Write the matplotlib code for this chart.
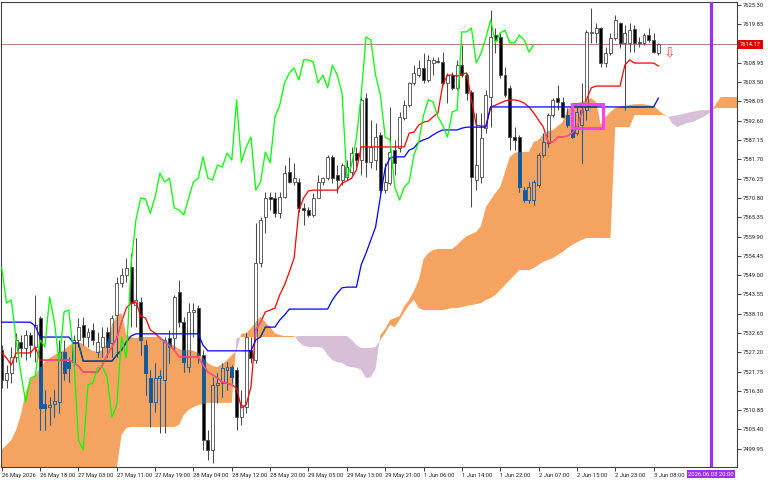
import numpy as np
import matplotlib.pyplot as plt
from matplotlib.path import Path
from matplotlib.patches import Rectangle
from matplotlib.transforms import blended_transform_factory

plt.rcParams['font.family'] = ['Roboto', 'DejaVu Sans']

# ---- hourly candles, bar 0 = 26 May 2026 ----
opens = [
    7527.8, 7519.4, 7521.3, 7525.9, 7530.1, 7528.4, 7532.1, 7528.7, 7536.9, 7512.6,
    7511.7, 7512.6, 7513.1, 7527.3, 7524.4, 7524.4, 7530.7, 7534.9, 7531.5, 7533.5,
    7527.3, 7528.7, 7532.9, 7529.8, 7537.7, 7546.8, 7549.0, 7551.3, 7540.5, 7541.4,
    7529.2, 7519.9, 7513.1, 7519.9, 7519.4, 7531.2, 7531.2, 7544.2, 7535.7, 7523.0,
    7538.6, 7539.7, 7526.4, 7502.4, 7499.6, 7518.0, 7518.5, 7522.2, 7523.0, 7522.2,
    7508.9, 7511.7, 7527.8, 7525.0, 7552.4, 7565.4, 7571.1, 7570.8, 7566.5, 7571.1,
    7578.1, 7575.3, 7575.3, 7568.0, 7567.4, 7566.0, 7570.8, 7575.3, 7576.4, 7582.4,
    7577.3, 7575.9, 7576.7, 7578.1, 7583.5, 7581.5, 7599.0, 7580.9, 7581.5, 7588.6,
    7573.0, 7575.0, 7584.3, 7584.9, 7593.4, 7597.0, 7603.3, 7605.5, 7607.5, 7604.1,
    7608.9, 7609.5, 7609.2, 7603.3, 7605.5, 7601.9, 7608.3, 7605.5, 7600.7, 7575.9,
    7576.7, 7590.5, 7599.3, 7616.8, 7616.3, 7605.5, 7601.9, 7588.0, 7588.0, 7573.0,
    7570.2, 7570.2, 7574.5, 7582.9, 7586.3, 7594.2, 7599.0, 7597.9, 7594.2, 7590.0,
    7589.1, 7591.4, 7595.6, 7617.4, 7617.4, 7618.8, 7608.9, 7611.7, 7616.0, 7620.2,
    7614.6, 7614.6, 7618.5, 7614.8, 7614.6, 7616.8, 7615.4, 7611.7]
highs = [
    7529.2, 7523.6, 7528.7, 7532.6, 7532.1, 7533.5, 7532.9, 7543.4, 7537.4, 7516.5,
    7514.6, 7516.5, 7530.7, 7530.7, 7525.9, 7532.1, 7536.9, 7537.2, 7534.0, 7535.5,
    7532.9, 7534.3, 7534.3, 7537.7, 7548.5, 7551.0, 7553.8, 7555.2, 7559.5, 7542.8,
    7530.7, 7522.2, 7524.2, 7522.2, 7531.5, 7533.5, 7543.4, 7547.6, 7537.2, 7541.1,
    7541.1, 7540.5, 7527.8, 7505.2, 7520.2, 7521.3, 7524.2, 7524.4, 7523.6, 7523.0,
    7516.5, 7532.6, 7531.5, 7563.7, 7565.4, 7572.5, 7572.5, 7572.5, 7572.5, 7580.1,
    7582.4, 7580.7, 7576.4, 7569.4, 7568.2, 7572.2, 7577.3, 7576.7, 7582.9, 7582.9,
    7580.1, 7580.7, 7581.5, 7585.2, 7585.2, 7599.3, 7600.4, 7592.8, 7592.0, 7589.4,
    7580.7, 7596.5, 7587.2, 7595.1, 7598.5, 7603.5, 7608.3, 7609.8, 7611.7, 7611.2,
    7610.6, 7610.6, 7612.0, 7606.1, 7606.4, 7609.8, 7614.0, 7606.1, 7601.3, 7594.8,
    7594.8, 7601.3, 7623.9, 7618.8, 7617.4, 7607.8, 7602.7, 7590.8, 7588.6, 7573.9,
    7575.3, 7575.9, 7583.5, 7589.1, 7594.8, 7599.0, 7602.7, 7599.3, 7596.2, 7590.8,
    7596.5, 7603.3, 7618.2, 7624.5, 7620.2, 7619.2, 7613.4, 7617.4, 7622.5, 7620.5,
    7619.6, 7620.2, 7619.6, 7616.3, 7617.4, 7618.8, 7617.4, 7614.6]
lows = [
    7517.1, 7517.1, 7518.5, 7524.4, 7525.9, 7525.0, 7525.9, 7524.4, 7505.2, 7505.2,
    7506.7, 7508.9, 7510.0, 7519.4, 7518.8, 7523.3, 7528.7, 7529.2, 7528.7, 7529.2,
    7525.9, 7525.9, 7525.9, 7525.9, 7525.9, 7545.6, 7547.0, 7534.3, 7534.3, 7526.4,
    7515.1, 7506.1, 7510.3, 7504.4, 7504.4, 7524.2, 7527.8, 7534.3, 7521.6, 7521.6,
    7531.5, 7524.2, 7499.6, 7496.8, 7495.9, 7512.9, 7514.6, 7516.5, 7518.5, 7505.2,
    7506.7, 7510.0, 7524.2, 7524.2, 7551.3, 7560.9, 7567.4, 7565.4, 7565.1, 7570.8,
    7575.0, 7574.5, 7566.8, 7563.2, 7565.4, 7565.4, 7570.8, 7574.5, 7575.9, 7575.0,
    7572.2, 7574.5, 7575.9, 7577.3, 7579.5, 7577.3, 7576.7, 7579.3, 7578.7, 7572.2,
    7572.2, 7574.5, 7577.3, 7583.8, 7592.8, 7596.5, 7602.7, 7605.0, 7603.3, 7603.5,
    7605.5, 7608.9, 7602.7, 7597.6, 7601.3, 7601.3, 7605.0, 7598.5, 7568.2, 7573.0,
    7575.0, 7589.1, 7590.8, 7611.7, 7604.7, 7599.3, 7584.3, 7584.3, 7572.5, 7569.6,
    7569.4, 7568.8, 7573.9, 7582.4, 7585.2, 7593.7, 7595.6, 7593.4, 7590.8, 7587.7,
    7588.6, 7580.7, 7592.8, 7614.6, 7614.6, 7607.8, 7607.8, 7611.2, 7615.4, 7613.1,
    7595.6, 7612.0, 7612.0, 7613.4, 7614.0, 7614.8, 7611.7, 7611.2]
closes = [
    7519.4, 7521.3, 7525.9, 7530.7, 7528.4, 7532.1, 7529.2, 7534.9, 7511.5, 7511.5,
    7512.3, 7513.4, 7527.3, 7521.3, 7522.8, 7530.7, 7534.3, 7531.5, 7532.9, 7530.7,
    7530.1, 7531.5, 7528.7, 7536.9, 7546.8, 7549.0, 7551.0, 7541.1, 7542.0, 7530.7,
    7521.3, 7513.1, 7519.9, 7520.5, 7530.7, 7528.7, 7542.8, 7535.7, 7524.4, 7538.6,
    7539.1, 7526.4, 7502.4, 7499.6, 7518.0, 7518.5, 7522.8, 7523.0, 7520.2, 7508.9,
    7512.3, 7531.5, 7525.6, 7552.4, 7564.6, 7570.8, 7570.5, 7566.5, 7571.1, 7577.8,
    7575.3, 7576.4, 7568.0, 7567.4, 7566.0, 7570.8, 7575.3, 7576.4, 7582.4, 7576.4,
    7575.9, 7580.1, 7579.5, 7583.5, 7581.5, 7598.5, 7580.9, 7585.2, 7588.0, 7573.0,
    7575.3, 7583.8, 7580.7, 7593.7, 7597.0, 7603.3, 7606.1, 7607.5, 7604.1, 7609.8,
    7609.8, 7609.2, 7603.3, 7605.5, 7601.9, 7608.3, 7605.5, 7600.4, 7576.7, 7580.1,
    7587.7, 7599.9, 7616.3, 7615.4, 7605.5, 7599.9, 7588.0, 7587.2, 7573.9, 7570.2,
    7573.9, 7575.3, 7582.9, 7586.6, 7594.2, 7598.5, 7597.9, 7593.7, 7591.4, 7588.0,
    7595.1, 7595.6, 7617.7, 7617.7, 7618.8, 7608.9, 7611.7, 7616.0, 7621.1, 7614.6,
    7617.4, 7618.2, 7614.6, 7614.6, 7616.8, 7615.4, 7612.0, 7614.17]

# ---- Ichimoku lines ----
tenkan = [
    7527.0, 7525.6, 7523.6, 7527.0, 7527.0, 7527.0, 7527.0, 7528.7, 7525.0, 7525.0,
    7525.0, 7525.0, 7525.0, 7525.0, 7525.0, 7524.4, 7523.3, 7521.6, 7521.6, 7521.6,
    7521.6, 7523.6, 7526.4, 7528.7, 7531.2, 7535.7, 7539.7, 7541.1, 7541.4, 7537.4,
    7536.9, 7533.5, 7532.6, 7531.2, 7530.1, 7529.0, 7527.8, 7525.9, 7525.9, 7525.9,
    7525.9, 7525.9, 7523.6, 7521.6, 7520.8, 7519.9, 7518.8, 7518.5, 7518.0, 7517.1,
    7511.5, 7512.3, 7517.4, 7533.5, 7535.7, 7538.6, 7539.1, 7539.7, 7543.4, 7546.2,
    7549.9, 7553.8, 7567.4, 7570.8, 7572.8, 7573.0, 7573.0, 7573.0, 7573.0, 7573.0,
    7573.0, 7575.0, 7575.6, 7576.4, 7578.7, 7585.2, 7585.2, 7585.2, 7585.2, 7585.2,
    7585.2, 7585.2, 7585.2, 7585.2, 7585.2, 7589.1, 7589.4, 7591.4, 7592.2, 7592.5,
    7593.7, 7594.8, 7602.7, 7605.5, 7605.5, 7605.2, 7605.8, 7606.1, 7598.5, 7591.4,
    7591.1, 7591.1, 7596.5, 7597.0, 7597.6, 7598.2, 7598.5, 7598.5, 7598.2, 7597.6,
    7596.5, 7594.8, 7592.8, 7590.8, 7586.6, 7586.6, 7588.0, 7588.0, 7588.3, 7589.1,
    7590.8, 7594.8, 7598.5, 7601.9, 7602.4, 7602.4, 7602.4, 7602.4, 7602.4, 7602.4,
    7608.3, 7609.8, 7608.9, 7608.9, 7608.9, 7608.9, 7608.9, 7608.1]
kijun = ([7535.7] * 7 + [7534.6] + [7531.5] * 7 + [7529.8] * 2 + [7524.7] * 7
         + [7526.4, 7527.8, 7530.1, 7531.8] + [7532.4] * 14 + [7529.2]
         + [7527.6] * 10 + [7530.7, 7531.5] + [7534.3] * 3 + [7536.3, 7537.7]
         + [7539.4] * 9 + [7542.0, 7543.9, 7545.4] + [7545.6] * 3
         + [7551.9, 7555.2, 7558.9, 7562.6, 7571.1, 7579.3, 7582.1] + [7582.4] * 3
         + [7584.3, 7584.9, 7586.6, 7587.2, 7587.7, 7588.6, 7589.4] + [7590.0] * 4
         + [7590.5] + [7590.8] * 5 + [7596.5] * 35 + [7599.0])
span_a = [
    7499.6, 7501.0, 7502.4, 7505.2, 7509.5, 7516.0, 7519.4, 7520.8, 7522.8, 7524.4,
    7525.6, 7526.4, 7527.3, 7527.8, 7529.0, 7529.8, 7530.1, 7529.5, 7528.4, 7527.6,
    7527.3, 7527.8, 7529.8, 7534.9, 7537.4, 7538.3, 7532.1, 7531.5, 7531.2, 7531.5,
    7531.5, 7531.5, 7531.5, 7531.8, 7530.7, 7529.8, 7529.0, 7528.1, 7527.8, 7527.8,
    7527.6, 7527.0, 7525.6, 7524.2, 7523.3, 7523.0, 7523.9, 7525.0, 7526.4, 7527.6,
    7532.4, 7532.6, 7534.0, 7535.7, 7537.2, 7535.7, 7534.3, 7532.6, 7532.1, 7531.8,
    7531.8, 7531.8, 7530.1, 7529.0, 7528.7, 7528.7, 7528.7, 7528.4, 7526.4, 7525.0,
    7524.4, 7524.2, 7523.3, 7523.0, 7522.8, 7522.2, 7519.9, 7520.2, 7522.5, 7532.1,
    7533.8, 7536.3, 7536.9, 7537.4, 7540.3, 7542.0, 7544.5, 7547.6, 7553.5, 7555.2,
    7556.1, 7556.4, 7556.4, 7556.4, 7556.4, 7557.5, 7558.9, 7560.0, 7560.6, 7561.2,
    7562.9, 7568.2, 7570.2, 7572.2, 7573.9, 7578.1, 7582.4, 7583.5, 7583.8, 7583.8,
    7583.8, 7586.6, 7587.2, 7588.8, 7589.7, 7590.0, 7591.1, 7592.2, 7595.6, 7597.0,
    7597.6, 7597.9, 7598.5, 7599.0, 7597.9, 7591.4, 7593.7, 7595.1, 7596.2, 7596.5,
    7596.8, 7597.0, 7597.3, 7597.3, 7597.3, 7597.0, 7596.8, 7595.6, 7594.5, 7593.7,
    7591.7, 7590.8, 7591.4, 7592.0, 7592.2, 7592.8, 7593.4, 7594.2, 7595.1, 7597.3,
    7599.3, 7599.3, 7599.3, 7599.3, 7599.3]
span_b = ([7489.7] * 24 + [7494.5, 7503.8, 7505.8] + [7506.1] * 10
          + [7506.7, 7509.5, 7510.9, 7511.7, 7512.3, 7512.6] + [7512.9] * 6
          + [7531.2] + [7531.5] * 12 + [7531.8] * 11 + [7530.7, 7529.2]
          + [7528.4] * 3 + [7528.7, 7530.7, 7532.6, 7534.9, 7534.3, 7536.3, 7538.6,
                            7540.5, 7542.0, 7539.7] + [7539.1] * 5 + [7539.4]
          + [7539.7] * 2 + [7540.0, 7540.3, 7540.5, 7540.8, 7541.1, 7542.0, 7542.5,
                            7543.4, 7544.8, 7546.2, 7547.6, 7549.0] + [7550.4] * 3
          + [7551.0, 7551.9, 7552.7, 7553.3, 7553.8, 7554.7, 7555.5, 7556.6, 7557.5,
             7558.3, 7558.9] + [7559.5] * 6 + [7590.8] * 4 + [7594.2] * 7
          + [7593.7, 7593.9, 7594.2, 7594.5, 7594.8, 7595.1, 7595.4] + [7595.6] * 3
          + [7596.2] * 6)

time_labels = ["26 May 2026", "26 May 18:00", "27 May 03:00", "27 May 11:00",
               "27 May 19:00", "28 May 04:00", "28 May 12:00", "28 May 20:00",
               "29 May 05:00", "29 May 13:00", "29 May 21:00", "1 Jun 06:00",
               "1 Jun 14:00", "1 Jun 22:00", "2 Jun 07:00", "2 Jun 15:00",
               "2 Jun 23:00", "3 Jun 08:00"]
label_bars = list(range(0, 137, 8))
price_labels = ["7625.30", "7619.85", "7608.95", "7603.50", "7598.05", "7592.60",
                "7587.15", "7581.70", "7576.25", "7570.80", "7565.35", "7559.90",
                "7554.45", "7549.00", "7543.55", "7538.10", "7532.65", "7527.20",
                "7521.75", "7516.30", "7510.85", "7505.40", "7499.95"]
last_price = 7614.17
vline_bar = 148
vline_label = "2026.06.03 20:00"
box_bars = (118.9, 125.4)
box_prices = (7590.5, 7597.3)
arrow_bar, arrow_price = 139.3, 7611.9

bars = np.arange(len(opens))
cloud_bars = np.arange(len(span_a))
o, h, l, c = (np.array(v) for v in (opens, highs, lows, closes))
a, b = np.array(span_a), np.array(span_b)

fig = plt.figure(figsize=(7.68, 4.8), dpi=100)
ax = fig.add_axes([1 / 768, 13.3 / 480, 736 / 768, 464.7 / 480])
ax.set_xlim(-0.15, 153.4)
ax.set_ylim(7494.87, 7626.15)

# kumo
orange = ax.fill_between(cloud_bars, a, b, where=a >= b, interpolate=True,
                         color='#f4a460', lw=0, zorder=1)
ax.fill_between(cloud_bars, a, b, where=a < b, interpolate=True,
                color='#d8bfd8', lw=0, zorder=1)
cloud_path = Path.make_compound_path(*orange.get_paths())

ax.axhline(last_price, color='#c07878', lw=0.7, zorder=1.5)


def candles(wick, bull, bear, edge, z, clip=None):
    up = c >= o
    lo = np.minimum(o, c)
    ht = np.maximum(np.abs(c - o), 0.3)
    arts = [ax.vlines(bars, l, h, colors=wick, lw=0.75, zorder=z)]
    arts += ax.bar(bars[up], ht[up], bottom=lo[up], width=0.62, color=bull,
                   edgecolor=edge, lw=0.6, zorder=z + 0.1).patches
    arts += ax.bar(bars[~up], ht[~up], bottom=lo[~up], width=0.62, color=bear,
                   edgecolor=edge, lw=0.6, zorder=z + 0.1).patches
    if clip is not None:
        for art in arts:
            art.set_clip_path(clip, ax.transData)


candles('#4a4a4a', 'white', 'black', '#4a4a4a', 2)
# inside the orange cloud the terminal inverts colours
candles('#1b5f9f', '#f4a460', '#0b5b9f', '#1b5f9f', 2.5, clip=cloud_path)

ax.plot(bars, tenkan, color='#ff0000', lw=0.9, zorder=3)
ax.plot(bars, kijun, color='#0000ff', lw=0.9, zorder=3)
t_in, = ax.plot(bars, tenkan, color='#f45b9f', lw=0.9, zorder=3.5)
k_in, = ax.plot(bars, kijun, color='#0b5b60', lw=0.9, zorder=3.5)
t_in.set_clip_path(cloud_path, ax.transData)
k_in.set_clip_path(cloud_path, ax.transData)
ax.plot(bars[:len(closes) - 26], closes[26:], color='#00ff00', lw=0.9, zorder=4)

ax.add_patch(Rectangle((box_bars[0], box_prices[0]), box_bars[1] - box_bars[0],
                       box_prices[1] - box_prices[0], fill=False,
                       edgecolor='#ff40ff', lw=2.2, zorder=6))
ax.text(arrow_bar, arrow_price, '\u21e9', ha='center', va='center', fontsize=10,
        color='#ff4a4a', family='DejaVu Sans', zorder=6)
ax.axvline(vline_bar, color='#9932ee', lw=2.3, zorder=6)

# axes
for s in ax.spines.values():
    s.set_color('#404040')
    s.set_linewidth(0.8)
ax.yaxis.tick_right()
ax.set_yticks([float(p) for p in price_labels])
ax.set_yticklabels(price_labels)
ax.tick_params(axis='y', length=3, width=0.6, pad=1.2, labelsize=4.2, colors='#202020')
ax.set_xticks(label_bars)
ax.set_xticklabels(time_labels, ha='left')
ax.tick_params(axis='x', length=3, width=0.6, pad=1.2, labelsize=4.2, colors='#202020')

bt = blended_transform_factory(ax.transAxes, ax.transData)
ax.text(1.004, last_price, '%.2f' % last_price, transform=bt, ha='left', va='center',
        fontsize=4.2, color='white', zorder=10, clip_on=False,
        bbox=dict(boxstyle='square,pad=0.3', facecolor='#e00000', edgecolor='none'))
bx = blended_transform_factory(ax.transData, ax.transAxes)
ax.text(vline_bar, -0.011, vline_label, transform=bx, ha='center', va='top',
        fontsize=4.2, color='white', zorder=10, clip_on=False,
        bbox=dict(boxstyle='square,pad=0.25', facecolor='#9932ee', edgecolor='none'))

fig.savefig('out.png', dpi=100)
